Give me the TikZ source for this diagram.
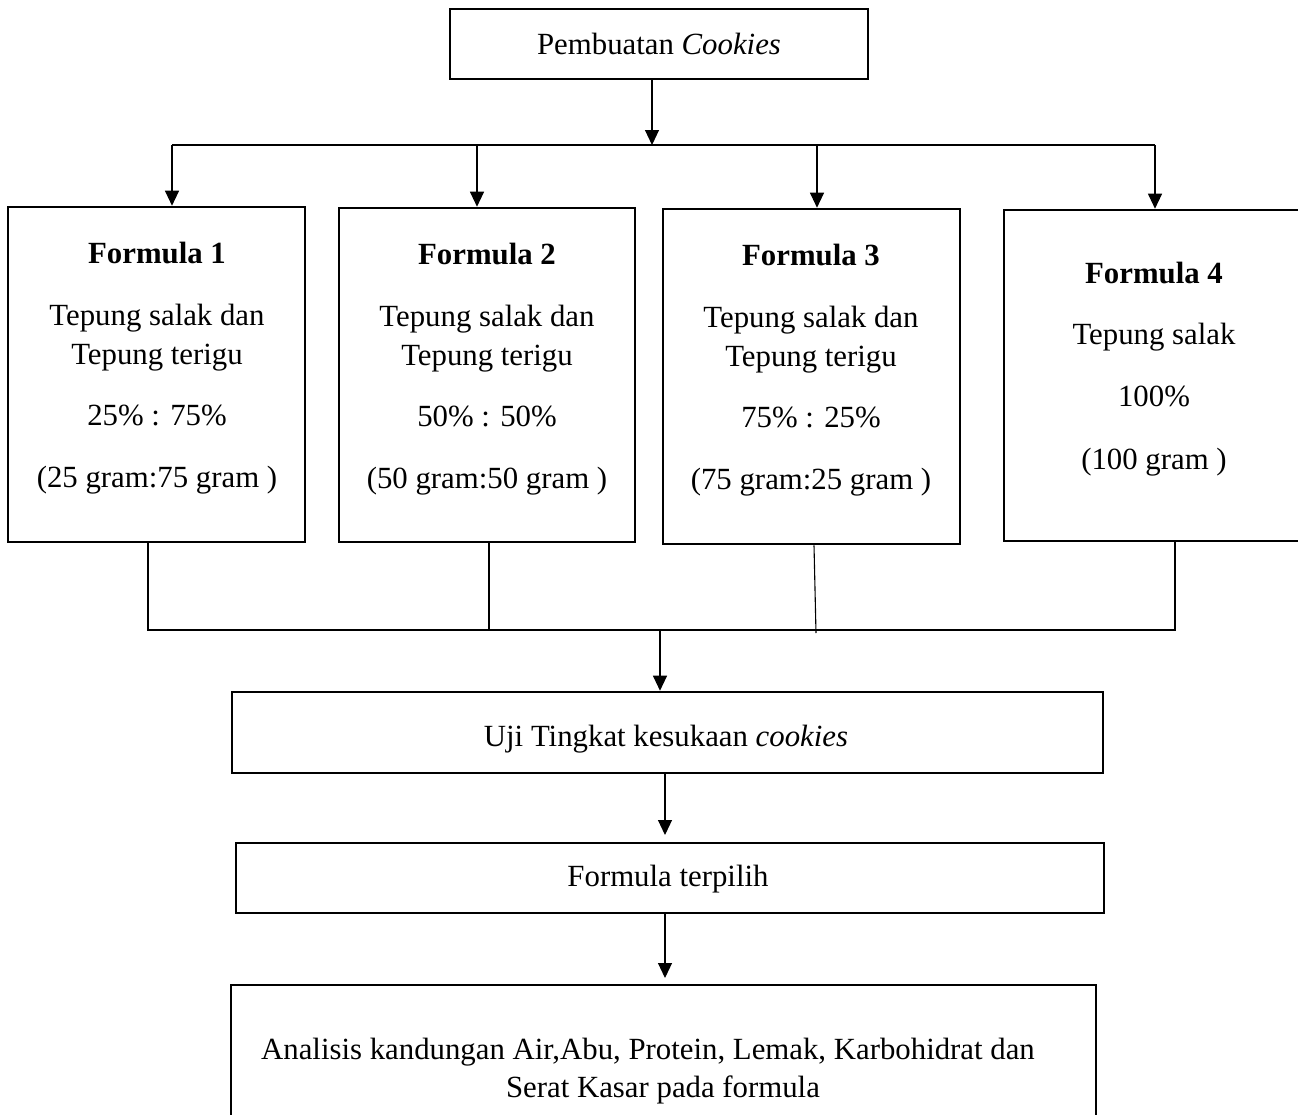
\documentclass[tikz,border=0pt]{standalone}
\usepackage{fontspec}
\setmainfont{Liberation Serif}
\usetikzlibrary{arrows.meta}
\begin{document}
\begin{tikzpicture}[x=1pt,y=-1pt,
  box/.style={draw=black,line width=2.6pt,inner sep=0pt,fill=none},
  txt/.style={anchor=base,inner sep=0pt,font=\fontsize{30.8}{37}\selectfont},
  conn/.style={draw=black,line width=1.1pt},
  arr/.style={conn,-{Triangle[length=15pt,width=14pt]}}]
\useasboundingbox (0,0) rectangle (1298,1114);
\clip (0,0) rectangle (1298,1114);
% boxes
\node[box,minimum width=418pt,minimum height=70pt] (top) at (659,44) {};
\node[box,minimum width=297pt,minimum height=335pt] (f1) at (156.5,374.5) {};
\node[box,minimum width=296pt,minimum height=334pt] (f2) at (487,375) {};
\node[box,minimum width=297pt,minimum height=335pt] (f3) at (811.5,376.5) {};
\node[box,minimum width=310pt,minimum height=331pt] (f4) at (1159,375.5) {};
\node[box,minimum width=871pt,minimum height=81pt] (uji) at (667.5,732.5) {};
\node[box,minimum width=868pt,minimum height=70pt] (pil) at (670,878) {};
\node[box,minimum width=865pt,minimum height=150pt] (ana) at (663.5,1060) {};
% texts
\node[txt] (ttop) at (659,54) {Pembuatan \textit{Cookies}};
\node[txt] (t1a) at (157,263) {\textbf{Formula 1}};
\node[txt] (t1b) at (157,325) {Tepung salak dan};
\node[txt] (t1c) at (157,364) {Tepung terigu};
\node[txt] (t1d) at (157,425) {25\% : 75\%};
\node[txt] (t1e) at (157,487) {(25 gram:75 gram )};
\node[txt] (t2a) at (487,264) {\textbf{Formula 2}};
\node[txt] (t2b) at (487,326) {Tepung salak dan};
\node[txt] (t2c) at (487,365) {Tepung terigu};
\node[txt] (t2d) at (487,426) {50\% : 50\%};
\node[txt] (t2e) at (487,488) {(50 gram:50 gram )};
\node[txt] (t3a) at (811,265) {\textbf{Formula 3}};
\node[txt] (t3b) at (811,327) {Tepung salak dan};
\node[txt] (t3c) at (811,366) {Tepung terigu};
\node[txt] (t3d) at (811,427) {75\% : 25\%};
\node[txt] (t3e) at (811,489) {(75 gram:25 gram )};
\node[txt] (t4a) at (1154,283) {\textbf{Formula 4}};
\node[txt] (t4b) at (1154,344) {Tepung salak};
\node[txt] (t4c) at (1154,406) {100\%};
\node[txt] (t4d) at (1154,469) {(100 gram )};
\node[txt] (tuji) at (666,746) {Uji Tingkat kesukaan \textit{cookies}};
\node[txt] (tpil) at (668,886) {Formula terpilih};
\node[txt] (tana1) at (648,1059) {Analisis kandungan Air,Abu, Protein, Lemak, Karbohidrat dan};
\node[txt] (tana2) at (663,1097) {Serat Kasar pada formula};
% coordinates
\coordinate (j1) at (652,145);
\coordinate (h1) at (172,145);
\coordinate (h4) at (1155,145);
\coordinate (b1) at (148,630);
\coordinate (b4) at (1175,630);
\coordinate (bm) at (660,630);
\coordinate (e2) at (665,835);
\coordinate (e3) at (665,978);
% top split
\draw[arr] (top.south -| j1) -- (j1);
\draw[conn] (h1) -- (h4);
\draw[arr] (h1) -- (f1.north -| h1);
\draw[arr] (477,145) -- (f2.north -| 477,0);
\draw[arr] (817,145) -- (f3.north -| 817,0);
\draw[arr] (h4) -- (f4.north -| h4);
% bottom merge
\draw[conn] (f1.south -| b1) -- (b1) -- (b4) -- (f4.south -| b4);
\draw[conn] (f2.south -| 489,0) -- (489,630);
\draw[conn] (f3.south -| 814,0) -- (816,633);
\draw[arr] (bm) -- (uji.north -| bm);
\draw[arr] (uji.south -| e2) -- (e2);
\draw[arr] (pil.south -| e3) -- (e3);
\end{tikzpicture}
\end{document}
